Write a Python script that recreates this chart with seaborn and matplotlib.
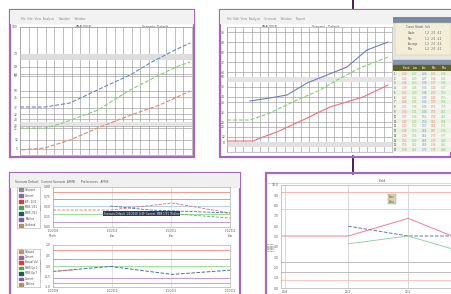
import numpy as np
import pandas as pd
import matplotlib.pyplot as plt
import matplotlib.patches as mpatches
import seaborn as sns

# Panel 1 (top left): three rising curves
p1_blue_x = [0, 14.5, 29, 45, 64, 75.6, 90, 99]
p1_blue_y = [37.5, 37.5, 40.6, 50.8, 62.5, 71.9, 82, 87.5]
p1_green_x = [0, 14.5, 25, 45, 64, 81, 93, 99]
p1_green_y = [21, 21, 25, 35, 50.8, 62.5, 70, 72.6]
p1_red_x = [1, 14.5, 29, 46.5, 64, 81, 99]
p1_red_y = [4, 5.5, 11.7, 21.9, 31, 39, 50]
p1_hlines = [100, 79, 69, 63, 62, 50, 45, 37, 32, 28, 23, 21, 12, 5]

# Panel 2 (top right): three rising curves + side table
p2_blue_x = [13.9, 26, 36.4, 48.5, 60.6, 72.7, 84.8, 97.6]
p2_blue_y = [40.8, 43.2, 45.6, 55.2, 61.6, 68, 81.6, 88]
p2_green_x = [0, 14, 26, 42.4, 56.4, 66.7, 80.6, 97.6]
p2_green_y = [25.6, 25.6, 31.2, 41.6, 49.6, 57.6, 67.2, 76]
p2_red_x = [0, 15.8, 21.8, 30.3, 46, 62.4, 82.4, 97.6]
p2_red_y = [8.8, 8.8, 12, 16, 25.6, 36, 44, 53.6]
p2_hlines = [96, 88, 80, 72, 64, 60, 52, 44, 40, 32, 24, 20, 12, 8]
table_rows = ["1", "2", "3", "4", "5", "6", "7", "8", "9", "10", "11", "12",
              "13", "14", "15", "16", "17"]
table_cols = ["Stand", "Low", "Ave", "Min", "Max"]
table_col_colors = ["#e87a70", "#7cc46a", "#6f86c8", "#e87a70", "#7cc46a"]

# Panel 3 (bottom left): two stacked charts
p3_x = [0, 1, 2, 3]
p3_top_red_x = [0, 0.97, 2.02, 3]
p3_top_red_y = [42.5, 42.5, 60, 35]
p3_top_blue_x = [0.97, 1.64, 3]
p3_top_blue_y = [52.5, 42.5, 35]
p3_top_green_x = [1.64, 3]
p3_top_green_y = [37.5, 22.5]
p3_top_refs = [87.5, 70, 52.5, 32.5, 12.5]
p3_top_ref_colors = ["#f08a80", "#b48ad0", "#a8c8e8", "#8fd88a", "#b48ad0"]
p3_bot_blue_x = [0, 0.97, 2.02, 3]
p3_bot_blue_y = [37, 49, 30, 40]
p3_bot_red_x = [0, 0.45]
p3_bot_red_y = [37, 42]
p3_bot_refs = [88, 67, 49, 21, 9]
p3_bot_ref_colors = ["#f08a80", "#b48ad0", "#8fd88a", "#b48ad0", "#f08a80"]
legend_top = ["Onboard", "Current", "BP - 1/31", "MBS 1/31", "MBS 7/31", "Midline", "Oneband"]
legend_top_colors = ["#8a8a8a", "#8a6aa0", "#d04040", "#50a050", "#205a5a", "#8a5aa0", "#b09060"]
legend_bot = ["Onband", "Current", "Actual Val", "MBS Up 1", "MBS Up 7", "Current", "Midline"]
legend_bot_colors = ["#c09070", "#8a6aa0", "#d04040", "#50a050", "#205a5a", "#8a5aa0", "#b09060"]

# Panel 4 (bottom right)
p4_red_x = [-0.1, 1, 2, 2.73]
p4_red_y = [50.5, 50.5, 67.6, 50.5]
p4_blue_x = [1, 2, 2.73]
p4_blue_y = [60, 50.5, 50.5]
p4_green_x = [1, 2, 2.73]
p4_green_y = [42.9, 50.5, 38]
p4_refs = [93, 77, 24.8, 16, 7.6]
p4_ref_colors = ["#f4b8b0", "#d8d8d8", "#bdbdbd", "#bdbdbd", "#f4c8c0"]

BLUE = "#6f86c8"
GREEN = "#86d070"
RED = "#f0806e"
FRAME = "#a468b8"
DARK = "#4b1f5c"
W, H = 452, 294

sns.set_style("white")
fig = plt.figure(figsize=(W / 100, H / 100), dpi=100)
fig.patch.set_facecolor("white")


def px_axes(x0, y0, x1, y1, z=1):
    ax = fig.add_axes([x0 / W, 1 - y1 / H, (x1 - x0) / W, (y1 - y0) / H], zorder=z)
    return ax


def frame(x0, y0, x1, y1):
    ax = px_axes(x0, y0, x1, y1, z=0)
    ax.set_xlim(0, 1)
    ax.set_ylim(0, 1)
    ax.axis("off")
    ax.add_patch(mpatches.Rectangle((0, 0), 1, 1, transform=ax.transAxes, fill=False,
                                    edgecolor=FRAME, linewidth=1.6, clip_on=False))
    return ax


def plain(ax):
    for s in ax.spines.values():
        s.set_color("#999999")
        s.set_linewidth(0.4)
    ax.tick_params(length=1, width=0.3, labelsize=2.2, pad=0.5, colors="#555555")


def curve(ax, xs, ys, color, dashed=False, lw=0.8):
    df = pd.DataFrame({"x": xs, "y": ys})
    sns.lineplot(data=df, x="x", y="y", ax=ax, color=color, linewidth=lw,
                 linestyle="--" if dashed else "-", legend=False)
    ax.set_xlabel("")
    ax.set_ylabel("")


# connector lines
line_ax = px_axes(0, 0, W, H, z=-1)
line_ax.set_xlim(0, W)
line_ax.set_ylim(H, 0)
line_ax.axis("off")
line_ax.plot([353, 353], [0, 12], color=DARK, lw=1.4)
line_ax.plot([353, 353], [156, 174], color=DARK, lw=1.4)

# ---------------- Panel 1 ----------------
fa = frame(10, 10, 194, 157)
fa.add_patch(mpatches.Rectangle((0, 0.91), 1, 0.09, transform=fa.transAxes, color="#f2f2f2"))
fa.text(0.06, 0.935, "File  Edit  View  Analysis     Tabulate     Window", fontsize=2, color="#888888", transform=fa.transAxes)
fa.text(0.36, 0.875, "ANALOGUE", fontsize=2.2, color="#444444", transform=fa.transAxes)
fa.text(0.72, 0.875, "Scenario  Default", fontsize=2.2, color="#444444", transform=fa.transAxes)
ax1 = px_axes(20, 27, 192, 155)
plain(ax1)
ax1.set_xlim(0, 100)
ax1.set_ylim(0, 100)
ax1.set_xticks(np.arange(0, 101, 5))
ax1.set_xticklabels([])
ax1.set_yticks(p1_hlines)
ax1.set_yticklabels([str(v) for v in p1_hlines])
ax1.grid(True, color="#9a9a9a", linewidth=0.45)
ax1.axhspan(74, 79, color="#dddddd", lw=0)
ax1.axhspan(23, 26, color="#e4e4e4", lw=0)
curve(ax1, p1_blue_x, p1_blue_y, BLUE, dashed=True)
curve(ax1, p1_green_x, p1_green_y, GREEN, dashed=True)
curve(ax1, p1_red_x, p1_red_y, RED, dashed=True)

# ---------------- Panel 2 ----------------
fb = frame(220, 10, 451, 157)
fb.add_patch(mpatches.Rectangle((0, 0.91), 1, 0.09, transform=fb.transAxes, color="#f2f2f2"))
fb.text(0.03, 0.935, "File  Edit  View  Analysis     Scenario     Window     Report", fontsize=2, color="#888888", transform=fb.transAxes)
fb.text(0.18, 0.875, "ANALOGUE", fontsize=2.2, color="#444444", transform=fb.transAxes)
fb.text(0.4, 0.875, "Scenario   Default", fontsize=2.2, color="#444444", transform=fb.transAxes)
ax2 = px_axes(227, 27, 392, 152)
plain(ax2)
ax2.set_xlim(0, 100)
ax2.set_ylim(0, 100)
ax2.set_xticks(np.arange(0, 101, 5))
ax2.set_xticklabels([])
ax2.set_yticks(p2_hlines)
ax2.set_yticklabels([str(v) for v in p2_hlines])
ax2.grid(True, color="#9a9a9a", linewidth=0.45)
ax2.axhspan(4, 8, color="#e0e0e0", lw=0)
ax2.axhspan(56, 60, color="#e4e4e4", lw=0)
curve(ax2, p2_blue_x, p2_blue_y, "#6f7fb8")
curve(ax2, p2_green_x, p2_green_y, GREEN, dashed=True)
curve(ax2, p2_red_x, p2_red_y, "#ee6f78")

# side panel: info box + table
side = px_axes(393, 17, 451, 152)
side.set_xlim(0, 6)
side.set_ylim(0, 30)
side.axis("off")
side.add_patch(mpatches.Rectangle((0, 0), 6, 30, color="#e8e8e2"))
side.add_patch(mpatches.Rectangle((0, 29), 6, 1, color="#7a8aa0"))
side.add_patch(mpatches.Rectangle((0.2, 21.5), 5.8, 7.2, color="#f2eed8", ec="#c8c0a0", lw=0.3))
side.text(1.3, 27.6, "Curve Grade  Info", fontsize=2, color="#555555")
for i, lab in enumerate(["Grade", "Min", "Average", "Max"]):
    side.text(1.5, 26.2 - i * 1.2, lab, fontsize=1.8, color="#555555")
    side.text(3.3, 26.2 - i * 1.2, "1.2   2.0   4.2", fontsize=1.8, color="#555555")
side.add_patch(mpatches.Rectangle((0, 19.6), 6, 0.9, color="#8896b0"))
side.add_patch(mpatches.Rectangle((0, 18.2), 6, 1.1, color="#5e5e2a"))
for j, c in enumerate(table_cols):
    side.text(1.0 + j, 18.4, c, fontsize=1.8, color="white")
row_h = 18.0 / len(table_rows)
for i, r in enumerate(table_rows):
    y = 18.0 - (i + 1) * row_h
    side.add_patch(mpatches.Rectangle((0, y), 6, row_h, color="#f6f6f0" if i % 2 else "#eaf2e4", lw=0))
    side.text(0.1, y + 0.2, r, fontsize=1.8, color="#333333")
    for j, col in enumerate(table_col_colors):
        side.text(0.95 + j, y + 0.2, "0.%02d" % (10 + i * 3 + j * 7), fontsize=1.8, color=col)

# ---------------- Panel 3 ----------------
fc = frame(10, 173, 240, 296)
fc.add_patch(mpatches.Rectangle((0, 0.89), 1, 0.11, transform=fc.transAxes, color="#f0f0f0"))
fc.text(0.02, 0.915, "Scenario Default   Current Scenario  AFMB       Preferences   AFMB", fontsize=2.1, color="#555555", transform=fc.transAxes)


def legend_box(x0, y0, x1, y1, labels, colors):
    lg = px_axes(x0, y0, x1, y1, z=2)
    lg.set_xlim(0, 1)
    lg.set_ylim(len(labels) + 0.5, 0.5)
    lg.set_xticks([])
    lg.set_yticks([])
    for s in lg.spines.values():
        s.set_color("#aaaaaa")
        s.set_linewidth(0.4)
    for i, (lab, col) in enumerate(zip(labels, colors)):
        lg.add_patch(mpatches.Rectangle((0.1, i + 0.75), 0.18, 0.5, color=col))
        lg.text(0.36, i + 1.15, lab, fontsize=1.8, color="#444444")


legend_box(17, 187, 40, 228, legend_top, legend_top_colors)
legend_box(17, 249, 40, 287, legend_bot, legend_bot_colors)

ax3a = px_axes(53, 187, 230, 227)
plain(ax3a)
ax3a.set_xlim(0, 3)
ax3a.set_ylim(0, 100)
ax3a.set_xticks(p3_x)
ax3a.set_xticklabels(["1/1/2009\nMonth", "1/1/2010\nYear", "1/1/2011\nYear", "1/1/2012\nYear"], fontsize=1.8)
ax3a.set_yticks([0, 25, 50, 75, 100])
ax3a.set_yticklabels(["0.00", "0.25", "0.50", "0.75", "1.00"])
ax3a.grid(True, axis="x", color="#d0d0d0", linewidth=0.4)
for v, c in zip(p3_top_refs, p3_top_ref_colors):
    ax3a.axhline(v, color=c, linewidth=0.6)
curve(ax3a, p3_top_red_x, p3_top_red_y, "#e07070", dashed=True, lw=0.6)
curve(ax3a, p3_top_blue_x, p3_top_blue_y, "#4a70a0", dashed=True, lw=0.6)
curve(ax3a, p3_top_green_x, p3_top_green_y, "#60b070", dashed=True, lw=0.6)
ax3a.set_ylabel("Price", fontsize=2, labelpad=1)
ax3a.text(0.86, 31, "Scenario Default  1/1/2010  0.49  Current  MBS 1/31  Midline",
          fontsize=1.8, color="white",
          bbox=dict(boxstyle="square,pad=0.3", fc="#2d3a50", ec="none"))

ax3b = px_axes(53, 245, 230, 287)
plain(ax3b)
ax3b.set_xlim(0, 3)
ax3b.set_ylim(0, 100)
ax3b.set_xticks(p3_x)
ax3b.set_xticklabels(["1/1/2009", "1/1/2010", "1/1/2011", "1/1/2012"], fontsize=1.8)
ax3b.set_yticks([0, 25, 50, 75, 100])
ax3b.set_yticklabels(["-1.0", "-0.5", "0.0", "0.5", "1.0"])
ax3b.grid(True, axis="x", color="#d0d0d0", linewidth=0.4)
for v, c in zip(p3_bot_refs, p3_bot_ref_colors):
    ax3b.axhline(v, color=c, linewidth=0.6)
curve(ax3b, p3_bot_blue_x, p3_bot_blue_y, "#4a70a0", dashed=True, lw=0.7)
curve(ax3b, p3_bot_red_x, p3_bot_red_y, "#e07070", dashed=True, lw=0.6)
ax3b.set_ylabel("Yield Rate", fontsize=2, labelpad=1)

# ---------------- Panel 4 ----------------
fd = frame(266, 173, 453, 296)
fd.text(0.6, 0.93, "Yield", fontsize=2.2, color="#444444", transform=fd.transAxes)
fd.plot([0, 1], [0.915, 0.915], color="#bbbbbb", lw=0.4, transform=fd.transAxes)
ax4 = px_axes(281, 185, 452, 288)
plain(ax4)
ax4.spines["right"].set_visible(False)
ax4.set_xlim(-0.12, 2.73)
ax4.set_ylim(0, 100)
ax4.set_xticks([-0.05, 1, 2])
ax4.set_xticklabels(["2009", "2010", "2011"], fontsize=1.8)
ax4.set_yticks(np.arange(0, 101, 10))
ax4.set_yticklabels(["%.1f" % (v / 10) for v in np.arange(0, 101, 10)])
ax4.grid(True, axis="x", color="#c8c8c8", linewidth=0.5)
for v, c in zip(p4_refs, p4_ref_colors):
    ax4.axhline(v, color=c, linewidth=0.7)
curve(ax4, p4_red_x, p4_red_y, "#f08090", lw=0.7)
curve(ax4, p4_blue_x, p4_blue_y, "#5a78c0", dashed=True, lw=0.7)
curve(ax4, p4_green_x, p4_green_y, "#90c8a0", lw=0.6)
ax4.text(1.68, 83, "Scen\nData", fontsize=1.8, color="#555555",
         bbox=dict(boxstyle="square,pad=0.3", fc="#d8d2b0", ec="#a0a080", lw=0.3))
fd.text(0.005, 0.36, "1.5000\n1.2500\n1.0000\n0.7500\n0.5000\n0.2500", fontsize=1.6,
        color="#444444", transform=fd.transAxes, linespacing=1.25)

fig.savefig("out.png", dpi=100, facecolor="white")
